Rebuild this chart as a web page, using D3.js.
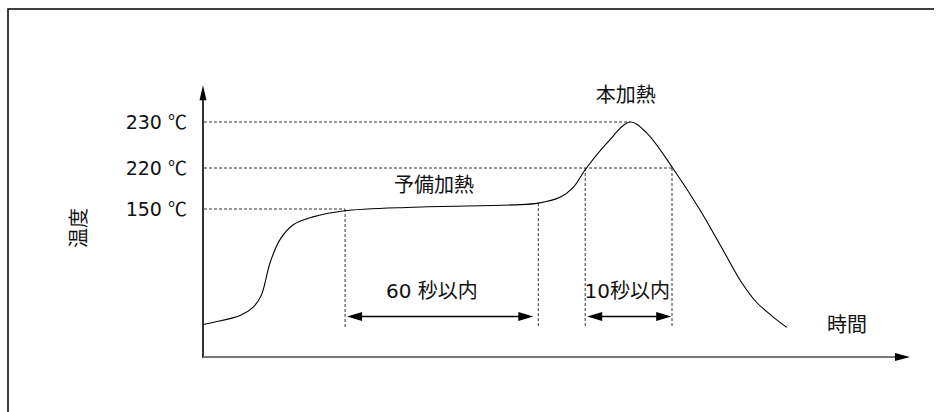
<!DOCTYPE html>
<html>
<head>
<meta charset="utf-8">
<script src="https://cdn.jsdelivr.net/npm/d3@7"></script>
<style>
  body { margin: 0; background: #fff; }
  text { font-family: "DejaVu Sans", "Noto Sans CJK JP", sans-serif; fill: #111; }
</style>
</head>
<body>
<div id="chart"></div>
<script>
// reflow profile (schematic): time units are arbitrary, temperature in degC
var times = [0, 1.4, 5.3, 7.1, 8.3, 9.6, 11, 12.9, 15.7, 20, 30, 44.3, 47.9, 51, 52.9, 54.6, 57.7, 61, 63.4, 67.1, 71, 74.4, 76.9, 79, 81.2, 83.4];
var temps = [33, 35, 42, 50, 62, 96, 119, 134, 142, 148, 153, 157, 160, 170, 187, 217, 225.4, 230, 227.6, 220, 149, 107, 76, 56, 42, 30];

var levels = [230, 220, 150];
var levelLabels = ["230 ℃", "220 ℃", "150 ℃"];
var levelEnds = [61, 67, 20.3];   // time where each dotted level line stops

// interval guides
var preStart = 20.3, preEnd = 47.9, preTops = [150, 160];
var peakStart = 54.6, peakEnd = 67, peakTops = [220, 220];
var guideBottom = 30;
var arrowTemp = 41;
var preLabel = "60 秒以内";
var peakLabel = "10秒以内";

var width = 944, height = 412;

var svg = d3.select("#chart").append("svg")
  .attr("width", width)
  .attr("height", height);

// scales - the temperature axis is not to scale in the original, so piecewise
var x = d3.scaleLinear().domain([0, 100]).range([203, 903]);
var y = d3.scaleLinear().domain([0, 150, 220, 230]).range([357, 209, 168, 122]);

// frame (top and left only)
svg.append("path")
  .attr("d", "M8,412 V9 H934")
  .attr("fill", "none")
  .attr("stroke", "#000")
  .attr("stroke-width", 1.5);

// axes
var tipY = y(238), tipX = x(101);
svg.append("line")
  .attr("x1", x(0)).attr("x2", x(0))
  .attr("y1", y(0) + 1).attr("y2", tipY + 10)
  .attr("stroke", "#000").attr("stroke-width", 1.6);
svg.append("path")
  .attr("d", "M" + x(0) + "," + tipY + " l-3.5,15 h7 z")
  .attr("fill", "#000");

svg.append("line")
  .attr("x1", x(0)).attr("x2", tipX - 10)
  .attr("y1", y(0)).attr("y2", y(0))
  .attr("stroke", "#777").attr("stroke-width", 1.8);
svg.append("path")
  .attr("d", "M" + tipX + "," + y(0) + " l-15,-4 v8 z")
  .attr("fill", "#000");

// dotted level lines + labels
svg.selectAll(".level")
  .data(levels)
  .enter().append("line")
  .attr("class", "level")
  .attr("x1", x(0) + 1)
  .attr("x2", (d, i) => x(levelEnds[i]))
  .attr("y1", d => y(d))
  .attr("y2", d => y(d))
  .attr("stroke", "#333")
  .attr("stroke-width", 1)
  .attr("stroke-dasharray", "3,2");

var lbl = svg.selectAll(".levelLabel")
  .data(levels)
  .enter().append("text")
  .attr("class", "levelLabel")
  .attr("x", 187)
  .attr("y", d => y(d) + 7)
  .attr("text-anchor", "end")
  .attr("font-size", 19);
lbl.append("tspan").text((d, i) => levelLabels[i].split(" ")[0] + " ");
lbl.append("tspan")
  .style("font-family", "'Noto Sans CJK JP'")
  .text((d, i) => levelLabels[i].split(" ")[1]);

// vertical guides
var guides = [
  {t: preStart, top: preTops[0]}, {t: preEnd, top: preTops[1]},
  {t: peakStart, top: peakTops[0]}, {t: peakEnd, top: peakTops[1]}
];
svg.selectAll(".guide")
  .data(guides)
  .enter().append("line")
  .attr("class", "guide")
  .attr("x1", d => x(d.t)).attr("x2", d => x(d.t))
  .attr("y1", d => y(d.top)).attr("y2", y(guideBottom))
  .attr("stroke", "#333")
  .attr("stroke-width", 1)
  .attr("stroke-dasharray", "3,2");

// profile curve
var line = d3.line()
  .x(d => x(d[0]))
  .y(d => y(d[1]))
  .curve(d3.curveCatmullRom.alpha(0.5));

svg.append("path")
  .attr("d", line(times.map((t, i) => [t, temps[i]])))
  .attr("fill", "none")
  .attr("stroke", "#000")
  .attr("stroke-width", 1.1);

// double arrows
function dblArrow(t0, t1) {
  var x0 = x(t0) + 2, x1 = x(t1) - 5, yy = y(arrowTemp);
  svg.append("line")
    .attr("x1", x0 + 10).attr("x2", x1 - 10)
    .attr("y1", yy).attr("y2", yy)
    .attr("stroke", "#000").attr("stroke-width", 1.5);
  svg.append("path")
    .attr("d", "M" + x0 + "," + yy + " l15,-4.5 v9 z M" + x1 + "," + yy + " l-15,-4.5 v9 z")
    .attr("fill", "#000");
}
dblArrow(preStart, preEnd);
dblArrow(peakStart, peakEnd + 0.6);

// annotations
function label(txt, cx, by) {
  svg.append("text")
    .attr("x", cx).attr("y", by)
    .attr("text-anchor", "middle")
    .attr("font-size", 20)
    .text(txt);
}
label("本加熱", x(60.4), 102);
label("予備加熱", x(33), 192);
label(preLabel, x(32.7), 298);
label(peakLabel, x(60.6), 298);
label("時間", x(92), 332);

// y axis title
svg.append("text")
  .attr("transform", "translate(86,228) rotate(-90)")
  .attr("text-anchor", "middle")
  .attr("font-size", 20)
  .text("温度");
</script>
</body>
</html>
